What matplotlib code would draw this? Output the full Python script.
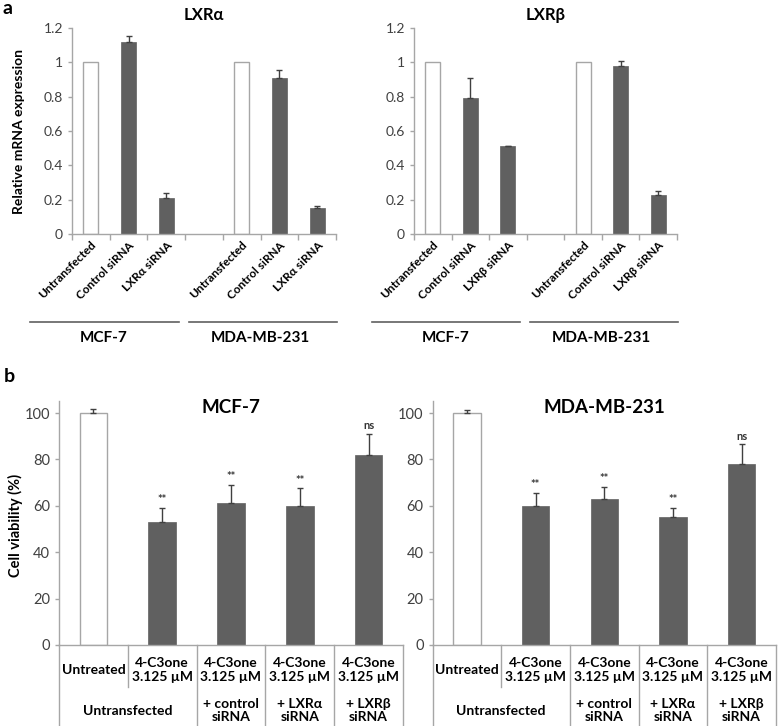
import numpy as np
import matplotlib.pyplot as plt

plt.rcParams['font.family'] = ['Lato', 'DejaVu Sans']

# ---- data: panel a (relative mRNA expression) ----
a_lxra_labels = ['Untransfected', 'Control siRNA', 'LXRα siRNA', '',
                 'Untransfected', 'Control siRNA', 'LXRα siRNA']
a_lxrb_labels = ['Untransfected', 'Control siRNA', 'LXRβ siRNA', '',
                 'Untransfected', 'Control siRNA', 'LXRβ siRNA']
lxra_vals = [1.0, 1.12, 0.21, np.nan, 1.0, 0.91, 0.15]
lxra_err = [0.0, 0.035, 0.03, np.nan, 0.0, 0.045, 0.015]
lxrb_vals = [1.0, 0.79, 0.51, np.nan, 1.0, 0.98, 0.225]
lxrb_err = [0.0, 0.12, 0.003, np.nan, 0.0, 0.03, 0.025]
a_white = [True, False, False, False, True, False, False]
a_groups = ['MCF-7', 'MDA-MB-231']

# ---- data: panel b (cell viability) ----
b_row1 = ['Untreated', '4-C3one\n3.125 µM', '4-C3one\n3.125 µM',
          '4-C3one\n3.125 µM', '4-C3one\n3.125 µM']
b_row2 = ['Untransfected', '+ control\nsiRNA', '+ LXRα\nsiRNA', '+ LXRβ\nsiRNA']
mcf7_viab = [100, 53, 61, 60, 82]
mcf7_err = [1.8, 6, 8, 7.5, 9]
mda_viab = [100, 60, 63, 55, 78]
mda_err = [1.5, 5.5, 5, 4, 8.5]
b_sig = ['', '**', '**', '**', 'ns']
b_white = [True, False, False, False, False]

DARK = '#606060'
EDGE = '#a6a6a6'
AXC = '#a6a6a6'
TXT = '#404040'

fig = plt.figure(figsize=(7.78, 7.26), dpi=100)


def style_axes(ax):
    for s in ['top', 'right']:
        ax.spines[s].set_visible(False)
    for s in ['left', 'bottom']:
        ax.spines[s].set_color(AXC)
        ax.spines[s].set_linewidth(1)
    ax.tick_params(axis='y', colors=AXC, labelcolor=TXT, length=3, width=1)


def panel_a(rect, title, labels, vals, errs):
    ax = fig.add_axes(rect)
    style_axes(ax)
    x = np.arange(len(labels))
    for i in x:
        if np.isnan(vals[i]):
            continue
        if a_white[i]:
            ax.bar(i, vals[i], 0.4, color='white', edgecolor=EDGE, linewidth=1)
        else:
            ax.bar(i, vals[i], 0.4, color=DARK, edgecolor=DARK, linewidth=0.5)
            ax.errorbar(i, vals[i], yerr=[[0], [errs[i]]], fmt='none',
                        ecolor=TXT, elinewidth=1, capsize=2.5, capthick=1)
    ax.set_xlim(-0.5, len(labels) - 0.5)
    ax.set_ylim(0, 1.2)
    ax.set_yticks([0, 0.2, 0.4, 0.6, 0.8, 1.0, 1.2])
    ax.set_yticklabels(['0', '0.2', '0.4', '0.6', '0.8', '1', '1.2'], fontsize=10)
    ax.set_xticks(x)
    ax.set_xticklabels(labels, rotation=45, ha='right', rotation_mode='anchor',
                       fontsize=8.5, fontweight='bold')
    ax.tick_params(axis='x', which='major', length=0, pad=4)
    ax.set_xticks(np.arange(len(labels) + 1) - 0.5, minor=True)
    ax.tick_params(axis='x', which='minor', length=4, colors=AXC, width=1)
    ax.text(0.5, 1.065, title, transform=ax.transAxes, ha='center', va='center',
            fontsize=12, fontweight='bold')
    # group lines below the rotated labels
    tr = ax.get_xaxis_transform()
    spans = [(-1.62, 2.33), (2.6, 6.52)]
    centers = [0.35, 4.5]
    for (x0, x1), c, g in zip(spans, centers, a_groups):
        ax.plot([x0, x1], [-0.427, -0.427], transform=tr, color='#606060',
                lw=1.2, clip_on=False)
        ax.text(c, -0.505, g, transform=tr, ha='center', va='center',
                fontsize=11, fontweight='bold')
    return ax


def panel_b(rect, title, vals, errs):
    ax = fig.add_axes(rect)
    style_axes(ax)
    n = len(vals)
    for i in range(n):
        if b_white[i]:
            ax.bar(i, vals[i], 0.4, color='white', edgecolor=EDGE, linewidth=1)
        else:
            ax.bar(i, vals[i], 0.4, color=DARK, edgecolor=DARK, linewidth=0.5)
        ax.errorbar(i, vals[i], yerr=[[0], [errs[i]]], fmt='none',
                    ecolor=TXT, elinewidth=1, capsize=2.5, capthick=1)
        if b_sig[i]:
            ax.annotate(b_sig[i], (i, vals[i] + errs[i]), xytext=(0, 2),
                        textcoords='offset points', ha='center', va='bottom',
                        fontsize=8, color='#333333', fontweight='bold')
    ax.set_xlim(-0.5, n - 0.5)
    ax.set_ylim(0, 105)
    ax.set_yticks([0, 20, 40, 60, 80, 100])
    ax.set_yticklabels(['0', '20', '40', '60', '80', '100'], fontsize=10.5)
    ax.set_xticks([])
    ax.text(0.5, 0.977, title, transform=ax.transAxes, ha='center', va='center',
            fontsize=13.5, fontweight='bold')
    # table below the axis
    tr = ax.get_xaxis_transform()
    ybot = -0.335
    yrow1 = -0.172
    for b in [-0.5, 1.5, 2.5, 3.5, 4.5]:
        ax.plot([b, b], [0, ybot], transform=tr, color=AXC, lw=1, clip_on=False)
    ax.plot([0.5, 0.5], [0, yrow1], transform=tr, color=AXC, lw=1, clip_on=False)
    for i, lab in enumerate(b_row1):
        ax.text(i, -0.103, lab, transform=tr, ha='center', va='center',
                fontsize=10, fontweight='bold', linespacing=1.15)
    row2_x = [0.5, 2, 3, 4]
    for xc, lab in zip(row2_x, b_row2):
        ax.text(xc, -0.27, lab, transform=tr, ha='center', va='center',
                fontsize=10, fontweight='bold', linespacing=1.15)
    return ax


panel_a([0.0925, 0.6777, 0.3393, 0.2837], 'LXRα', a_lxra_labels, lxra_vals, lxra_err)
panel_a([0.5321, 0.6777, 0.3380, 0.2837], 'LXRβ', a_lxrb_labels, lxrb_vals, lxrb_err)
panel_b([0.0758, 0.1116, 0.4422, 0.3355], 'MCF-7', mcf7_viab, mcf7_err)
panel_b([0.5560, 0.1116, 0.4414, 0.3355], 'MDA-MB-231', mda_viab, mda_err)

fig.text(0.024, 1 - 131 / 726, 'Relative mRNA expression', rotation=90,
         ha='center', va='center', fontsize=10, fontweight='bold')
fig.text(0.02, 1 - 525 / 726, 'Cell viability (%)', rotation=90,
         ha='center', va='center', fontsize=10.5, fontweight='bold')
fig.text(0.003, 1 - 9 / 726, 'a', ha='left', va='center', fontsize=14, fontweight='bold')
fig.text(0.005, 1 - 377 / 726, 'b', ha='left', va='center', fontsize=14, fontweight='bold')

fig.savefig('out.png', dpi=100)
